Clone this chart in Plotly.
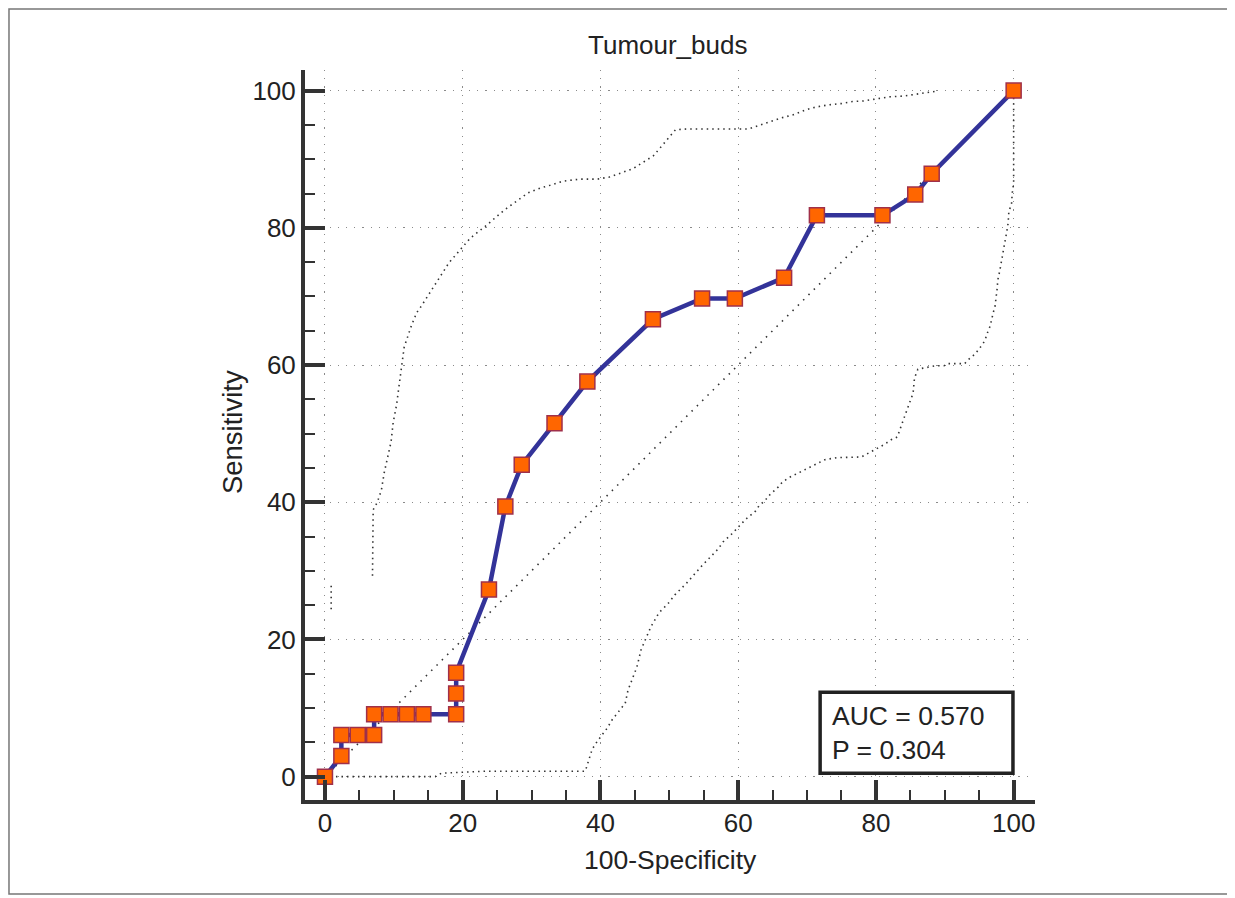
import plotly.graph_objects as go

# ---------------- data ----------------
roc_x = [0, 2.38, 2.38, 4.76, 7.14, 7.14, 9.52, 11.9, 14.29, 19.05, 19.05, 19.05,
         23.81, 26.19, 28.57, 33.33, 38.1, 47.62, 54.76, 59.52, 66.67, 71.43,
         80.95, 85.71, 88.1, 100]
roc_y = [0, 3.03, 6.06, 6.06, 6.06, 9.09, 9.09, 9.09, 9.09, 9.09, 12.12, 15.15,
         27.27, 39.39, 45.45, 51.52, 57.58, 66.67, 69.7, 69.7, 72.73, 81.82,
         81.82, 84.85, 87.88, 100]

upper_x = [0.9, 0.9, None, 6.9, 6.9, 7.0, 7.6, 8.2, 8.6, 9.1, 9.6, 9.9, 10.4, 10.8,
           11.1, 11.5, 12.5, 13.3, 14.0, 16.6, 18.0, 21.1, 23.5, 25.7, 26.6, 29.5,
           31.3, 32.7, 34.6, 37.1, 39.6, 41.3, 42.9, 44.7, 47.7, 49.6, 50.9, 52.5,
           57.9, 61.5, 63.3, 64.4, 66.2, 68.1, 69.8, 71.3, 73.0, 74.9, 76.6, 78.2,
           80.4, 82.1, 84.0, 86.0, 88.7]
upper_y = [24.4, 28.2, None, 29.3, 36.0, 38.9, 40.0, 41.8, 44.3, 46.5, 48.8, 51.6,
           54.2, 57.3, 59.7, 62.6, 65.6, 67.6, 68.6, 72.8, 74.9, 78.5, 80.4, 82.3,
           83.0, 85.1, 85.8, 86.2, 86.8, 87.1, 87.1, 87.4, 88.0, 88.6, 90.5, 92.7,
           94.3, 94.4, 94.4, 94.4, 95.0, 95.4, 96.0, 96.5, 97.2, 97.6, 97.9, 98.1,
           98.4, 98.5, 98.9, 99.1, 99.2, 99.5, 99.9]

lower_x = [0, 16.0, 16.9, 23.3, 37.8, 38.8, 39.5, 40.2, 41.0, 41.7, 42.6, 43.6,
           44.0, 44.7, 45.3, 45.9, 46.8, 47.3, 48.5, 49.8, 50.8, 52.5, 54.6, 57.1,
           57.8, 59.1, 60.7, 61.3, 62.5, 62.9, 64.2, 64.6, 65.8, 66.3, 67.2, 68.2,
           72.6, 74.3, 76.8, 77.9, 79.0, 81.2, 82.2, 83.1, 84.2, 85.4, 85.6, 86.1,
           88.7, 89.9, 90.4, 92.9, 93.2, 94.4, 95.1, 95.8, 96.3, 96.6, 97.0, 97.3,
           97.6, 97.7, 98.0, 98.3, 98.5, 98.7, 99.0, 99.2, 99.3, 99.7, 99.8, 100, 100]
lower_y = [0, 0, 0.5, 0.8, 0.8, 4.0, 5.1, 6.1, 7.1, 8.3, 9.4, 10.7,
           12.6, 14.4, 16.0, 18.5, 20.7, 21.8, 23.9, 25.2, 26.5, 28.2, 30.6, 33.2,
           34.2, 35.4, 37.1, 37.7, 38.7, 39.3, 40.6, 41.1, 42.2, 42.8, 43.5, 44.0,
           46.2, 46.5, 46.5, 46.6, 47.2, 48.4, 49.1, 49.5, 52.6, 55.9, 58.1, 59.4,
           59.9, 59.9, 60.2, 60.2, 60.6, 61.6, 62.5, 63.5, 65.0, 65.7, 67.5, 68.6,
           71.1, 72.4, 73.8, 75.3, 76.5, 77.8, 79.4, 80.7, 82.3, 83.6, 85.1, 86.5, 100]

diag_x = [0, 100]
diag_y = [0, 100]

tick_vals = [0, 20, 40, 60, 80, 100]
title_text = "Tumour_buds"
x_title = "100-Specificity"
y_title = "Sensitivity"
auc_text = "AUC = 0.570<br>P = 0.304"

# ---------------- figure ----------------
FONT = "Liberation Sans, Arial, sans-serif"
fig = go.Figure()

dot_line = dict(color="#333333", width=1.6, dash="1.5px,4px")
fig.add_trace(go.Scatter(x=upper_x, y=upper_y, mode="lines", line=dot_line,
                         connectgaps=False, hoverinfo="skip"))
fig.add_trace(go.Scatter(x=lower_x, y=lower_y, mode="lines", line=dot_line,
                         hoverinfo="skip"))
fig.add_trace(go.Scatter(x=diag_x, y=diag_y, mode="lines",
                         line=dict(color="#333333", width=1.6, dash="1.5px,6px"),
                         hoverinfo="skip"))
fig.add_trace(go.Scatter(
    x=roc_x, y=roc_y, mode="lines+markers",
    line=dict(color="#333399", width=4.5),
    marker=dict(symbol="square", size=15, color="#FF6600",
                line=dict(color="#A0304A", width=1.5)),
))

axis_common = dict(
    showline=True, linewidth=4, linecolor="#333333", mirror=False,
    ticks="inside", ticklen=20, tickwidth=4, tickcolor="#333333",
    tickvals=tick_vals, showgrid=True, gridcolor="#8a8a8a", gridwidth=1.2,
    griddash="1.2px,7px", zeroline=False,
    tickfont=dict(family=FONT, size=26, color="#222222"),
    minor=dict(ticks="inside", ticklen=10, tickwidth=1.5, tickcolor="#333333",
               dtick=5, tick0=0, showgrid=False),
)

fig.update_xaxes(range=[-2.9, 103.1], ticklabelstandoff=-3, **axis_common)
fig.update_yaxes(range=[-3.4, 103.0], **axis_common)

# AUC box
fig.add_shape(type="rect", xref="x", yref="y", x0=71.9, x1=99.9, y0=0.5, y1=12.3,
              line=dict(color="#222222", width=3.5), fillcolor="white", layer="above")

fig.add_annotation(x=73.3, y=6.4, xref="x", yref="y", text=auc_text,
                   showarrow=False, xanchor="left", yanchor="middle", align="left",
                   font=dict(family=FONT, size=26.5, color="#222222"))

# titles
fig.add_annotation(x=0.497, y=1.034, xref="paper", yref="paper", text=title_text,
                   showarrow=False, xanchor="center", yanchor="middle",
                   font=dict(family=FONT, size=26, color="#222222"))
fig.add_annotation(x=0.50, y=-0.082, xref="paper", yref="paper", text=x_title,
                   showarrow=False, xanchor="center", yanchor="middle",
                   font=dict(family=FONT, size=26.5, color="#222222"))
fig.add_annotation(x=-0.10, y=0.504, xref="paper", yref="paper", text=y_title,
                   showarrow=False, xanchor="center", yanchor="middle", textangle=-90,
                   font=dict(family=FONT, size=27.5, color="#222222"))

# outer frame of the picture
fig.add_shape(type="rect", xref="paper", yref="paper",
              x0=-0.4055, x1=1.2685, y0=-0.1288, y1=1.0836,
              line=dict(color="#777777", width=1.5), fillcolor="rgba(0,0,0,0)",
              layer="above")

# the page adds an 8px body margin; the figure is sized to fit the window
fig.update_layout(
    width=1227, height=890, autosize=False,
    margin=dict(l=297, r=200, t=62, b=98),
    plot_bgcolor="white", paper_bgcolor="white",
    showlegend=False,
)

fig.write_html("out.html")
